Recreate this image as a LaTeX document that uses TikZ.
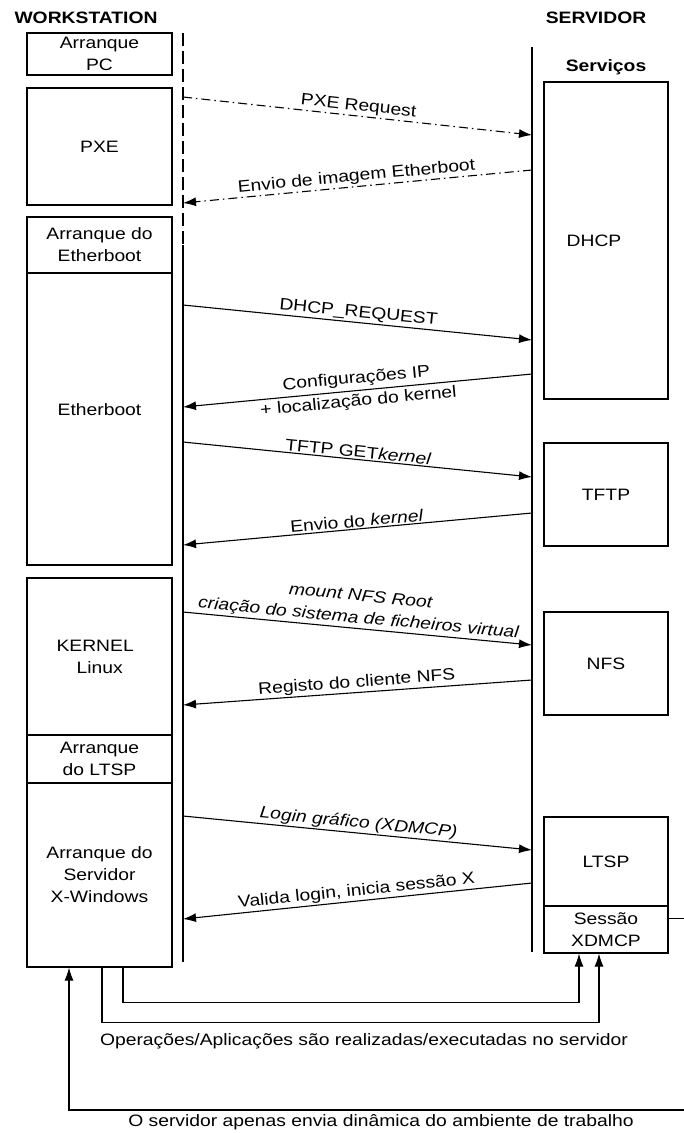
\documentclass[tikz,border=0pt]{standalone}
\usepackage{fontspec}
\setmainfont{Liberation Sans}[FakeStretch=1.17]
\usetikzlibrary{arrows.meta}

\begin{document}
\begin{tikzpicture}[x=1pt,y=-1pt,font=\fontsize{16.5}{22}\selectfont,line width=1.1pt,
  box/.style={draw,inner sep=0pt,align=center},
  msg/.style={-{Latex[length=13pt,width=9pt]}},
  dashdot/.style={dash pattern=on 9pt off 4pt on 1.5pt off 4pt},
  lbl/.style={sloped,above,inner sep=1.5pt,align=center}]
\useasboundingbox (0,0) rectangle (684,1133);
\clip (0,0) rectangle (684,1133);
% titles
\node[font=\fontsize{16.5}{22}\selectfont\bfseries] (ws) at (86,18){WORKSTATION};
\node[font=\fontsize{16.5}{22}\selectfont\bfseries] (srv) at (596,18){SERVIDOR};
\node[font=\fontsize{16.5}{22}\selectfont\bfseries] (serv) at (606,67){Serviços};
% workstation side
\node[box,minimum width=145pt,minimum height=42pt] (pc) at (99.5,54){Arranque\\PC};
\node[box,minimum width=145pt,minimum height=117pt] (pxe) at (99.5,146.5){PXE};
\node[box,minimum width=145pt,minimum height=56pt] (arreth) at (99.5,245){Arranque do\\Etherboot};
\node[box,minimum width=145pt,minimum height=292pt] (eth) at (99.5,419){\raisebox{18pt}{Etherboot}};
\node[box,minimum width=145pt,minimum height=157pt] (kern) at (99.5,656.5){};
\node[align=left,anchor=west,inner sep=0pt] (kerntxt) at (56,657){KERNEL\\\hspace*{20pt}Linux};
\node[box,minimum width=145pt,minimum height=48pt] (arrltsp) at (99.5,759){Arranque\\do LTSP};
\node[box,minimum width=145pt,minimum height=184pt] (xwin) at (99.5,875){Arranque do\\Servidor\\X-Windows};
% server side
\node[box,minimum width=124pt,minimum height=317pt] (dhcp) at (606,240.5){\hspace*{-24pt}DHCP};
\node[box,minimum width=124pt,minimum height=103pt] (tftp) at (606,494.5){TFTP};
\node[box,minimum width=124pt,minimum height=103pt] (nfs) at (606,663.5){NFS};
\node[box,minimum width=124pt,minimum height=89pt] (ltsp) at (606,861.5){LTSP};
\node[box,minimum width=124pt,minimum height=47pt] (sess) at (606,929.5){Sessão\\XDMCP};
% time lines
\coordinate (wtop) at (183,33);\coordinate (wmid) at (183,245);\coordinate (wbot) at (183,962);
\coordinate (stop) at (532,47);\coordinate (sbot) at (532,952);
\draw[dash pattern=on 13pt off 5pt] (wtop)--(wmid);\draw (wmid)--(wbot);\draw (stop)--(sbot);
\foreach \i/\a/\b in {1/97/135,2/203/170,3/305/340,4/407/374,5/442/477,6/545/513,7/612/645,8/705/680,9/816/850,10/919/883}{
\coordinate (w\i) at (183,\a);\coordinate (s\i) at (532,\b);}
% messages
\draw[msg,dashdot] (w1)--node[lbl]{PXE Request}(s1);
\draw[msg,dashdot] (s2)--node[lbl]{Envio de imagem Etherboot}(w2);
\draw[msg] (w3)--node[lbl]{DHCP\_REQUEST}(s3);
\draw[msg] (s4)--node[lbl,anchor=center,font=\fontsize{16.5}{23}\selectfont]{Configurações IP\\+ localização do kernel}(w4);
\draw[msg] (w5)--node[lbl]{TFTP GET\textit{kernel}}(s5);
\draw[msg] (s6)--node[lbl]{Envio do \textit{kernel}}(w6);
\draw[msg] (w7)--node[lbl,font=\fontsize{16.5}{22}\selectfont\itshape]{mount NFS Root\\criação do sistema de ficheiros virtual}(s7);
\draw[msg] (s8)--node[lbl]{Registo do cliente NFS}(w8);
\draw[msg] (w9)--node[lbl,font=\fontsize{16.5}{22}\selectfont\itshape]{Login gráfico (XDMCP)}(s9);
\draw[msg] (s10)--node[lbl]{Valida login, inicia sessão X}(w10);
% session loop
\draw[msg] ([xshift=23.5pt]xwin.south)--++(0,35)-|([xshift=-27pt]sess.south);
\draw[msg] ([xshift=2.5pt]xwin.south)--++(0,55)-|([xshift=-7pt]sess.south);
\coordinate (loop) at (700,1110);
\draw[msg] ([yshift=11pt]sess.east)-|(loop)-|([xshift=-30.5pt]xwin.south);
\node (ops) at (364,1041){Operações/Aplicações são realizadas/executadas no servidor};
\node (env) at (381,1122){O servidor apenas envia dinâmica do ambiente de trabalho};
\end{tikzpicture}
\end{document}
